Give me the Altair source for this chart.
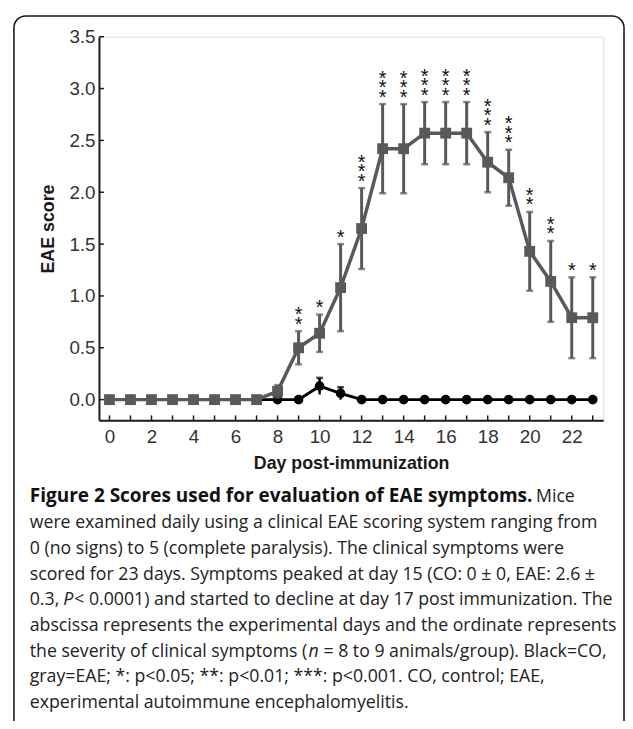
import altair as alt
import pandas as pd

# ---------------- data ----------------
days = list(range(24))
eae_mean = [0, 0, 0, 0, 0, 0, 0, 0, 0.08, 0.50, 0.64, 1.08, 1.65, 2.42, 2.42,
            2.57, 2.57, 2.57, 2.29, 2.14, 1.43, 1.14, 0.79, 0.79]
eae_err = [0, 0, 0, 0, 0, 0, 0, 0, 0.06, 0.16, 0.18, 0.42, 0.39, 0.43, 0.43,
           0.30, 0.30, 0.30, 0.29, 0.27, 0.38, 0.39, 0.39, 0.39]
co_mean = [0, 0, 0, 0, 0, 0, 0, 0, 0, 0, 0.13, 0.06, 0, 0, 0, 0, 0, 0, 0, 0,
           0, 0, 0, 0]
co_err = [0, 0, 0, 0, 0, 0, 0, 0, 0, 0, 0.08, 0.06, 0, 0, 0, 0, 0, 0, 0, 0,
          0, 0, 0, 0]
stars = ["", "", "", "", "", "", "", "", "", "**", "*", "*", "***", "***",
         "***", "***", "***", "***", "***", "***", "**", "**", "*", "*"]
x_tick_labels = [0, 2, 4, 6, 8, 10, 12, 14, 16, 18, 20, 22]
x_minor_ticks = list(range(24))
y_tick_values = [0, 0.5, 1.0, 1.5, 2.0, 2.5, 3.0, 3.5]

caption_lines = [
    [("bold", "Figure 2 Scores used for evaluation of EAE symptoms."), ("normal", "Mice")],
    [("normal", "were examined daily using a clinical EAE scoring system ranging from")],
    [("normal", "0 (no signs) to 5 (complete paralysis). The clinical symptoms were")],
    [("normal", "scored for 23 days. Symptoms peaked at day 15 (CO: 0 \u00b1 0, EAE: 2.6 \u00b1")],
    [("normal", "0.3,"), ("italic", "P"), ("normal", "< 0.0001) and started to decline at day 17 post immunization. The")],
    [("normal", "abscissa represents the experimental days and the ordinate represents")],
    [("normal", "the severity of clinical symptoms ("), ("italic", "n"), ("normal", "= 8 to 9 animals/group). Black=CO,")],
    [("normal", "gray=EAE; *: p<0.05; **: p<0.01; ***: p<0.001. CO, control; EAE,")],
    [("normal", "experimental autoimmune encephalomyelitis.")],
]
# x start (page px) of each caption segment
caption_x = [[30, 542], [30], [30], [30], [30, 64, 75], [30], [30, 312, 327], [30], [30]]

# ---------------- layout ----------------
W, H = 510, 388
PAD_L, PAD_T = 92, 25
GRAY = "#595959"
AXIS_FONT = "Liberation Sans"
CAP_FONT = "Open Sans"

df = pd.DataFrame({
    "day": days, "eae": eae_mean, "eae_err": eae_err,
    "co": co_mean, "co_err": co_err, "stars": stars,
})
df["eae_lo"] = df["eae"] - df["eae_err"]
df["eae_hi"] = df["eae"] + df["eae_err"]
df["co_lo"] = (df["co"] - df["co_err"]).clip(lower=0)
df["co_hi"] = df["co"] + df["co_err"]

xscale = alt.Scale(domain=[-0.5, 23.5], nice=False, zero=False)
yscale = alt.Scale(domain=[-0.2, 3.5], nice=False, zero=False)
xaxis = alt.Axis(values=x_tick_labels, ticks=False, grid=False, domain=True,
                 domainColor="#1a1a1a", domainWidth=2, labelFont=AXIS_FONT,
                 labelFontSize=19, labelColor="#333333", labelPadding=7,
                 title="Day post-immunization", titleFont=AXIS_FONT,
                 titleFontSize=18, titleFontWeight="bold", titleColor="#1a1a1a",
                 titlePadding=9)
yaxis = alt.Axis(values=y_tick_values, format=".1f", ticks=False, grid=False,
                 domain=True, domainColor="#1a1a1a", domainWidth=2,
                 labelFont=AXIS_FONT, labelFontSize=19, labelColor="#333333",
                 labelPadding=4, title="EAE score", titleFont=AXIS_FONT,
                 titleFontSize=18, titleFontWeight="bold", titleColor="#1a1a1a",
                 titlePadding=12)

def X(field):
    return alt.X(field, type="quantitative", scale=xscale, axis=xaxis)

def Y(field):
    return alt.Y(field, type="quantitative", scale=yscale, axis=yaxis)

base = alt.Chart(df)

# inward ticks
ytick_df = pd.DataFrame({"v": y_tick_values})
ytick_layer = alt.Chart(ytick_df).mark_rule(color="#1a1a1a", strokeWidth=1.5).encode(
    y=Y("v"), x=alt.value(0), x2=alt.value(5))
xtick_df = pd.DataFrame({"d": x_minor_ticks})
xtick_layer = alt.Chart(xtick_df).mark_rule(color="#1a1a1a", strokeWidth=1.5).encode(
    x=X("d"), y=alt.value(H), y2=alt.value(H - 5))

# CO (black)
co_err_df = df[df["co_err"] > 0]
co_line = base.mark_line(color="#000000", strokeWidth=3).encode(x=X("day"), y=Y("co"))
co_bars = alt.Chart(co_err_df).mark_rule(color="#000000", strokeWidth=2.5).encode(
    x=X("day"), y=Y("co_lo"), y2="co_hi")
co_caps = alt.Chart(co_err_df).mark_tick(color="#000000", orient="horizontal",
                                         size=7, thickness=2.5).encode(x=X("day"), y=Y("co_hi"))
co_pts = base.mark_circle(color="#000000", size=95, opacity=1).encode(x=X("day"), y=Y("co"))

# EAE (gray)
eae_err_df = df[df["eae_err"] > 0]
eae_line = base.mark_line(color=GRAY, strokeWidth=3.5).encode(x=X("day"), y=Y("eae"))
eae_bars = alt.Chart(eae_err_df).mark_rule(color=GRAY, strokeWidth=3).encode(
    x=X("day"), y=Y("eae_lo"), y2="eae_hi")
eae_caps_hi = alt.Chart(eae_err_df).mark_tick(color=GRAY, orient="horizontal",
                                              size=7, thickness=2.5).encode(x=X("day"), y=Y("eae_hi"))
eae_caps_lo = alt.Chart(eae_err_df).mark_tick(color=GRAY, orient="horizontal",
                                              size=7, thickness=2.5).encode(x=X("day"), y=Y("eae_lo"))
eae_pts = base.mark_square(color=GRAY, size=120, opacity=1).encode(x=X("day"), y=Y("eae"))

# significance stars, stacked vertically (one row per star)
star_rows = []
for d, s, hi in zip(days, stars, df["eae_hi"]):
    for k in range(len(s)):
        star_rows.append({"day": d, "eae_hi": hi, "k": k, "star": "*"})
star_df = pd.DataFrame(star_rows)
star_layers = []
for k in range(3):
    star_layers.append(
        alt.Chart(star_df[star_df["k"] == k]).mark_text(
            font=AXIS_FONT, fontSize=20, color="#111111", baseline="middle",
            dy=-6.5 - 9.5 * k).encode(x=X("day"), y=Y("eae_hi"), text="star:N"))

# frame
one = pd.DataFrame({"k": [0]})
frame = alt.Chart(one).mark_rect(fillOpacity=0, stroke="#1a1a1a", strokeWidth=1.6,
                                 cornerRadius=12).encode(
    x=alt.value(14 - 8 - PAD_L), x2=alt.value(631 - 8 - PAD_L),
    y=alt.value(12 - 8 - PAD_T), y2=alt.value(760))

# caption
caption_layers = []
line_base = 504
line_step = 26
for i, segs in enumerate(caption_lines):
    for j, (style, txt) in enumerate(segs):
        kw = dict(font=CAP_FONT, fontSize=17.9, color="#222222", align="left",
                  baseline="alphabetic")
        if style == "bold":
            kw["fontWeight"] = "bold"
            kw["fontSize"] = 19.2
            kw["color"] = "#111111"
        if style == "italic":
            kw["fontStyle"] = "italic"
        seg_df = pd.DataFrame({"t": [txt]})
        caption_layers.append(
            alt.Chart(seg_df).mark_text(**kw).encode(
                text="t:N",
                x=alt.value(caption_x[i][j] - 8 - PAD_L),
                y=alt.value(line_base + i * line_step - 8 - PAD_T)))

chart = alt.layer(
    frame, xtick_layer, ytick_layer,
    co_line, co_bars, co_caps, co_pts,
    eae_line, eae_bars, eae_caps_hi, eae_caps_lo, eae_pts,
    *star_layers, *caption_layers,
).properties(
    width=W, height=H,
    autosize=alt.AutoSizeParams(type="none"),
    padding={"left": PAD_L, "top": PAD_T, "right": 22, "bottom": 300},
).configure_view(strokeWidth=0).configure(background="white")

chart.save("out.html", embed_options={"renderer": "svg", "actions": False})
